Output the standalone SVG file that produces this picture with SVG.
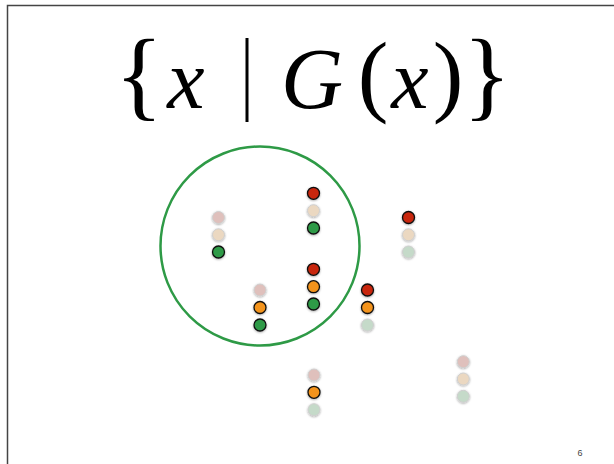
<svg xmlns="http://www.w3.org/2000/svg" width="614" height="464" viewBox="0 0 614 464">
<style>
.m{font-family:"Liberation Serif","DejaVu Serif",serif;fill:#000;text-anchor:middle}
.i{font-style:italic}
.d{stroke:#111;stroke-width:1.3}
.f{stroke:#cfcfcf;stroke-width:1}
.r{fill:#c8250c}.o{fill:#f3931a}.g{fill:#2e9a46}
.rf{fill:#dfc0bc}.tf{fill:#ebd8c1}.gf{fill:#c5dac9}
</style>
<defs>
<filter id="sh" x="-50%" y="-50%" width="200%" height="200%">
<feDropShadow dx="0" dy="0.8" stdDeviation="0.8" flood-color="#000" flood-opacity="0.35"/>
</filter>
</defs>
<rect x="0" y="0" width="614" height="464" fill="#fff"/>
<path d="M7.5 464 V5.5 H614" fill="none" stroke="#444" stroke-width="1.5"/>
<g id="title">
<text class="m" x="139" y="108" font-size="100">{</text>
<text class="m i" x="186" y="108" font-size="84">x</text>
<rect x="245.5" y="38" width="3" height="84" fill="#000"/>
<text class="m i" x="312" y="108" font-size="86">G</text>
<text class="m" x="373" y="105" font-size="92">(</text>
<text class="m i" x="410" y="108" font-size="84">x</text>
<text class="m" x="448" y="105" font-size="92">)</text>
<text class="m" x="487" y="108" font-size="100">}</text>
</g>
<g id="set-circle">
<circle cx="260" cy="246" r="99.5" fill="none" stroke="#2e9a46" stroke-width="2.5"/>
</g>
<g id="dots" filter="url(#sh)">
<g id="itemA">
<circle cx="218.5" cy="217.5" r="6" class="rf f"/>
<circle cx="218.5" cy="234.8" r="6" class="tf f"/>
<circle cx="218.5" cy="252" r="6" class="g d"/>
</g>
<g id="itemB">
<circle cx="260" cy="290" r="6" class="rf f"/>
<circle cx="260" cy="307.5" r="6" class="o d"/>
<circle cx="260" cy="325" r="6" class="g d"/>
</g>
<g id="itemC">
<circle cx="313.5" cy="193.3" r="6" class="r d"/>
<circle cx="313.5" cy="210.7" r="6" class="tf f"/>
<circle cx="313.5" cy="228" r="6" class="g d"/>
</g>
<g id="itemD">
<circle cx="313.5" cy="269.3" r="6" class="r d"/>
<circle cx="313.5" cy="286.7" r="6" class="o d"/>
<circle cx="313.5" cy="304" r="6" class="g d"/>
</g>
<g id="itemE">
<circle cx="367.5" cy="290" r="6" class="r d"/>
<circle cx="367.5" cy="307.5" r="6" class="o d"/>
<circle cx="367.5" cy="325" r="6" class="gf f"/>
</g>
<g id="itemF">
<circle cx="408.5" cy="217.5" r="6" class="r d"/>
<circle cx="408.5" cy="234.8" r="6" class="tf f"/>
<circle cx="408.5" cy="252" r="6" class="gf f"/>
</g>
<g id="itemG">
<circle cx="314" cy="375" r="6" class="rf f"/>
<circle cx="314" cy="392.3" r="6" class="o d"/>
<circle cx="314" cy="409.7" r="6" class="gf f"/>
</g>
<g id="itemH">
<circle cx="463.3" cy="361.7" r="6" class="rf f"/>
<circle cx="463.3" cy="379" r="6" class="tf f"/>
<circle cx="463.3" cy="396.3" r="6" class="gf f"/>
</g>
</g>
<text x="580" y="456" font-family="Liberation Sans,Arial,sans-serif" font-size="9" fill="#444" text-anchor="middle">6</text>
</svg>
